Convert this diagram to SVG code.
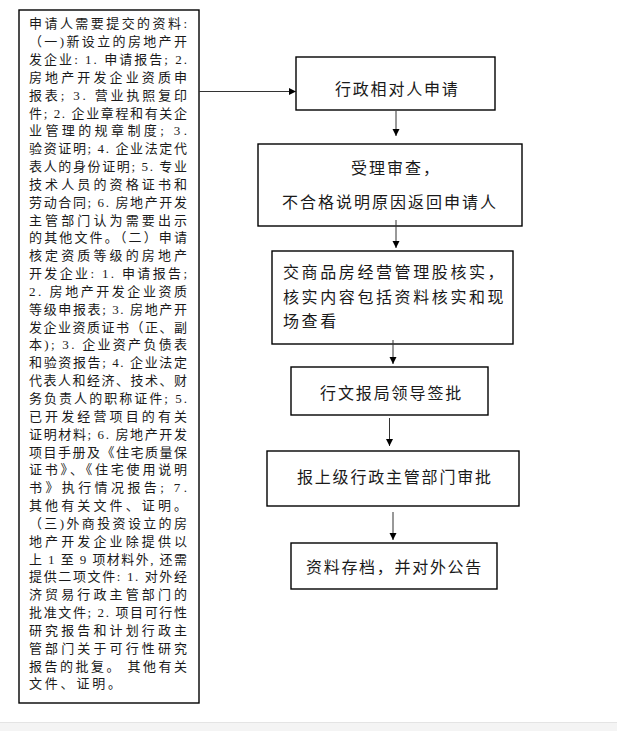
<svg xmlns="http://www.w3.org/2000/svg" width="617" height="731" viewBox="0 0 617 731">
<style>
.box{fill:#fff;stroke:#000;stroke-width:1.4}
.lt{font-family:"Liberation Serif","Noto Sans CJK SC",serif;font-size:13px;fill:#1a1a1a}
.rt{font-family:"Liberation Serif","Noto Sans CJK SC",sans-serif;font-size:16px;fill:#1a1a1a}
.con{stroke:#333;stroke-width:1;fill:none;marker-end:url(#ah)}
</style>
<defs>
<marker id="ah" markerUnits="userSpaceOnUse" markerWidth="8" markerHeight="8" refX="7" refY="3.5" orient="auto">
<path d="M0,0 L7,3.5 L0,7 z" fill="#000"/>
</marker>
</defs>
<rect x="0" y="0" width="617" height="731" fill="#fff"/>
<rect x="0" y="722" width="617" height="9" fill="#f4f4f4"/>
<line x1="0" y1="722.5" x2="617" y2="722.5" stroke="#e4e4e4" stroke-width="1"/>

<g id="materials">
<rect class="box" x="19" y="10" width="180" height="693"/>
<g class="lt">
<text x="29" y="28.3" textLength="158" lengthAdjust="spacing">申请人需要提交的资料:</text>
<text x="29" y="46.1" textLength="158" lengthAdjust="spacing">（一)新设立的房地产开</text>
<text x="29" y="64.0" textLength="158" lengthAdjust="spacing">发企业: 1. 申请报告; 2.</text>
<text x="29" y="81.8" textLength="158" lengthAdjust="spacing">房地产开发企业资质申</text>
<text x="29" y="99.7" textLength="158" lengthAdjust="spacing">报表; 3. 营业执照复印</text>
<text x="29" y="117.5" textLength="158" lengthAdjust="spacing">件; 2. 企业章程和有关企</text>
<text x="29" y="135.3" textLength="158" lengthAdjust="spacing">业管理的规章制度; 3.</text>
<text x="29" y="153.2" textLength="158" lengthAdjust="spacing">验资证明; 4. 企业法定代</text>
<text x="29" y="171.0" textLength="158" lengthAdjust="spacing">表人的身份证明; 5. 专业</text>
<text x="29" y="188.9" textLength="158" lengthAdjust="spacing">技术人员的资格证书和</text>
<text x="29" y="206.7" textLength="158" lengthAdjust="spacing">劳动合同; 6. 房地产开发</text>
<text x="29" y="224.5" textLength="158" lengthAdjust="spacing">主管部门认为需要出示</text>
<text x="29" y="242.4" textLength="158" lengthAdjust="spacing">的其他文件。（二）申请</text>
<text x="29" y="260.2" textLength="158" lengthAdjust="spacing">核定资质等级的房地产</text>
<text x="29" y="278.1" textLength="158" lengthAdjust="spacing">开发企业: 1. 申请报告;</text>
<text x="29" y="295.9" textLength="158" lengthAdjust="spacing">2. 房地产开发企业资质</text>
<text x="29" y="313.7" textLength="158" lengthAdjust="spacing">等级申报表; 3. 房地产开</text>
<text x="29" y="331.6" textLength="158" lengthAdjust="spacing">发企业资质证书（正、副</text>
<text x="29" y="349.4" textLength="158" lengthAdjust="spacing">本); 3. 企业资产负债表</text>
<text x="29" y="367.3" textLength="158" lengthAdjust="spacing">和验资报告; 4. 企业法定</text>
<text x="29" y="385.1" textLength="158" lengthAdjust="spacing">代表人和经济、技术、财</text>
<text x="29" y="402.9" textLength="158" lengthAdjust="spacing">务负责人的职称证件; 5.</text>
<text x="29" y="420.8" textLength="158" lengthAdjust="spacing">已开发经营项目的有关</text>
<text x="29" y="438.6" textLength="158" lengthAdjust="spacing">证明材料; 6. 房地产开发</text>
<text x="29" y="456.5" textLength="158" lengthAdjust="spacing">项目手册及《住宅质量保</text>
<text x="29" y="474.3" textLength="158" lengthAdjust="spacing">证书》、《住宅使用说明</text>
<text x="29" y="492.1" textLength="158" lengthAdjust="spacing">书》执行情况报告; 7.</text>
<text x="29" y="510.0" textLength="158" lengthAdjust="spacing">其他有关文件、证明。</text>
<text x="29" y="527.8" textLength="158" lengthAdjust="spacing">（三)外商投资设立的房</text>
<text x="29" y="545.7" textLength="158" lengthAdjust="spacing">地产开发企业除提供以</text>
<text x="29" y="563.5" textLength="158" lengthAdjust="spacing">上 1 至 9 项材料外, 还需</text>
<text x="29" y="581.3" textLength="158" lengthAdjust="spacing">提供二项文件: 1. 对外经</text>
<text x="29" y="599.2" textLength="158" lengthAdjust="spacing">济贸易行政主管部门的</text>
<text x="29" y="617.0" textLength="158" lengthAdjust="spacing">批准文件; 2. 项目可行性</text>
<text x="29" y="634.9" textLength="158" lengthAdjust="spacing">研究报告和计划行政主</text>
<text x="29" y="652.7" textLength="158" lengthAdjust="spacing">管部门关于可行性研究</text>
<text x="29" y="670.5" textLength="158" lengthAdjust="spacing">报告的批复。 其他有关</text>
<text x="29" y="688.4" letter-spacing="2.8">文件、证明。</text>
</g>
</g>

<g id="n1">
<rect class="box" x="296" y="57" width="199" height="53"/>
<text class="rt" x="335" y="95" letter-spacing="1.8">行政相对人申请</text>
</g>
<g id="n2">
<rect class="box" x="258" y="144" width="264" height="82"/>
<text class="rt" x="351" y="174" letter-spacing="2">受理审查，</text>
<text class="rt" x="282" y="208" letter-spacing="2">不合格说明原因返回申请人</text>
</g>
<g id="n3">
<rect class="box" x="272" y="251" width="241" height="93"/>
<text class="rt" x="283" y="278" letter-spacing="2.6">交商品房经营管理股核实，</text>
<text class="rt" x="283" y="303" letter-spacing="2.6">核实内容包括资料核实和现</text>
<text class="rt" x="283" y="326.5" letter-spacing="2.6">场查看</text>
</g>
<g id="n4">
<rect class="box" x="291" y="367" width="197" height="48"/>
<text class="rt" x="320" y="399" letter-spacing="1.9">行文报局领导签批</text>
</g>
<g id="n5">
<rect class="box" x="267" y="451" width="252" height="55"/>
<text class="rt" x="297" y="483" letter-spacing="1.8">报上级行政主管部门审批</text>
</g>
<g id="n6">
<rect class="box" x="291" y="543" width="206" height="46"/>
<text class="rt" x="306" y="573" letter-spacing="1.7">资料存档，并对外公告</text>
</g>

<g id="connectors">
<line class="con" x1="199" y1="91.5" x2="296" y2="91.5"/>
<line class="con" x1="396" y1="111" x2="396" y2="136"/>
<line class="con" x1="396" y1="220" x2="396" y2="248"/>
<line class="con" x1="393" y1="340" x2="393" y2="364"/>
<line class="con" x1="389.5" y1="418" x2="389.5" y2="446"/>
<line class="con" x1="393" y1="512" x2="393" y2="540"/>
</g>
</svg>
